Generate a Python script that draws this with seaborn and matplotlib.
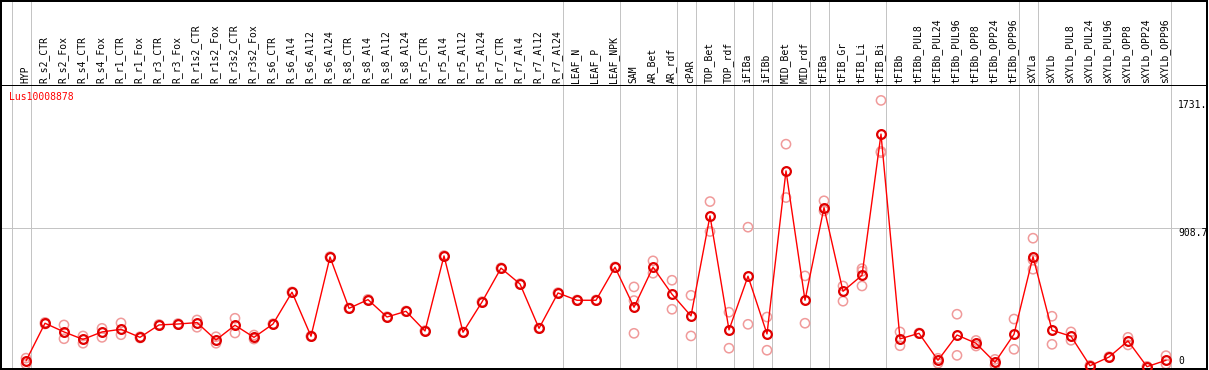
import pandas as pd
import seaborn as sns
import matplotlib.pyplot as plt

samples = [
    'HYP', 'R_s2_CTR', 'R_s2_Fox', 'R_s4_CTR', 'R_s4_Fox', 'R_r1_CTR', 'R_r1_Fox',
    'R_r3_CTR', 'R_r3_Fox', 'R_r1s2_CTR', 'R_r1s2_Fox', 'R_r3s2_CTR', 'R_r3s2_Fox',
    'R_s6_CTR', 'R_s6_Al4', 'R_s6_Al12', 'R_s6_Al24', 'R_s8_CTR', 'R_s8_Al4',
    'R_s8_Al12', 'R_s8_Al24', 'R_r5_CTR', 'R_r5_Al4', 'R_r5_Al12', 'R_r5_Al24',
    'R_r7_CTR', 'R_r7_Al4', 'R_r7_Al12', 'R_r7_Al24', 'LEAF_N', 'LEAF_P', 'LEAF_NPK',
    'SAM', 'AR_Bet', 'AR_rdf', 'cPAR', 'TOP_Bet', 'TOP_rdf', 'iFIBa', 'iFIBb',
    'MID_Bet', 'MID_rdf', 'tFIBa', 'tFIB_Gr', 'tFIB_Li', 'tFIB_Bi', 'tFIBb',
    'tFIBb_PUL8', 'tFIBb_PUL24', 'tFIBb_PUL96', 'tFIBb_OPP8', 'tFIBb_OPP24',
    'tFIBb_OPP96', 'sXYLa', 'sXYLb', 'sXYLb_PUL8', 'sXYLb_PUL24', 'sXYLb_PUL96',
    'sXYLb_OPP8', 'sXYLb_OPP24', 'sXYLb_OPP96',
]

means = [
    52, 295, 239, 191, 239, 256, 204, 284, 290, 299, 187, 282, 204,
    290, 495, 211, 722, 391, 447, 335, 372, 245, 729, 237, 432,
    650, 548, 262, 490, 443, 443, 656,
    398, 656, 482, 342, 987, 252, 598, 226,
    1277, 443, 1040, 501, 604, 1514,
    194, 230, 56, 219, 166, 43, 224,
    724, 250, 211, 21, 77, 181, 15, 56,
]

replicates = [
    [70, 32], [300, 290], [284, 195], [213, 166], [262, 204], [297, 221], [208, 200],
    [287, 281], [293, 287], [316, 269], [208, 166], [327, 232], [219, 193],
    [292, 288], [497, 493], [213, 209], [724, 720], [393, 389], [449, 445],
    [337, 333], [374, 370], [247, 243], [731, 727], [239, 235], [434, 430],
    [652, 648], [550, 546], [264, 260], [492, 488], [445, 441], [445, 441], [658, 654],
    [529, 441, 230], [697, 617], [572, 385], [475, 213], [1079, 886], [366, 134],
    [914, 288], [335, 121],
    [1449, 1105], [600, 295], [1084, 1019], [535, 437], [647, 630, 535],
    [1731, 1402, 1394],
    [239, 150], [232, 228], [69, 37], [353, 88], [184, 148], [62, 25], [322, 127],
    [843, 643, 703], [340, 159], [239, 185], [23, 19], [79, 75], [204, 155],
    [17, 13], [86, 32],
]

# number of samples in each tissue group (separated by grey lines)
group_sizes = [1, 28, 3, 3, 1, 2, 1, 1, 2, 1, 3, 7, 1, 7]

gene_id = 'Lus10008878'
scale_labels = ['1731.', '908.7', '0']
scale_values = [1731, 908.7, 0]

# ---- layout (pixels) ----
W, H = 1209, 370
dpi = 100
px = 1.0 / dpi
y_top_head, y_split, y_bottom = 0, 85, 369
x_left, x_right = 1, 1207
col_w = 19.0
x0 = 26.0  # pixel of first sample point

sns.set_theme(style='white')
plt.rcParams['font.family'] = ['DejaVu Sans Mono']

fig = plt.figure(figsize=(W * px, H * px), dpi=dpi)

ax = fig.add_axes([x_left / W, 1 - y_bottom / H,
                   (x_right - x_left) / W, (y_bottom - y_split) / H])
ax_head = fig.add_axes([x_left / W, 1 - y_split / H,
                        (x_right - x_left) / W, (y_split - y_top_head - 0.5) / H])

xlim = ((x_left - x0) / col_w, (x_right - x0) / col_w)
ymax = (y_bottom - y_split) * (908.7 / 141.0)

pos = list(range(len(samples)))
rep_df = pd.DataFrame({'pos': pos, 'value': replicates}).explode('value')
rep_df['value'] = rep_df['value'].astype(float)

grid_c = '#c4c4c4'
lw_px = 72.0 / dpi

# group separators
bounds = [-1]
for g in group_sizes:
    bounds.append(bounds[-1] + g)
for b in bounds:
    xb = b + 4.5 / col_w
    ax.axvline(xb, color=grid_c, lw=lw_px, zorder=0)
    ax_head.axvline(xb, color=grid_c, lw=lw_px, zorder=0)
ax.axhline(908.7, color=grid_c, lw=lw_px, zorder=0)

# replicate points
sns.scatterplot(data=rep_df, x='pos', y='value', ax=ax, s=44, color='#f0a0a0',
                linewidth=1.1, zorder=2, legend=False)
coll = ax.collections[-1]
coll.set_facecolor('none')
coll.set_edgecolor('#f09a9a')

# mean line
sns.lineplot(x=pos, y=means, ax=ax, color='#ff0000', lw=1.0, marker='o',
             ms=6.3, mfc='none', mec='#e00000', mew=1.6, zorder=3)

ax.set_xlim(*xlim)
ax.set_ylim(0, ymax)
ax.set_xticks([])
ax.set_yticks([])
ax.set_xlabel('')
ax.set_ylabel('')
for s in ax.spines.values():
    s.set_color('black')
    s.set_linewidth(2 * lw_px)

ax.text(0.0065, 0.975, gene_id, transform=ax.transAxes, color='#ff0000',
        fontsize=7, ha='left', va='top')

x_scale = (1178 - x0) / col_w
for lab, v in zip(scale_labels, scale_values):
    if v == 0:
        ax.text(x_scale, 3 * 6.445, lab, fontsize=7, ha='left', va='bottom', color='black')
    else:
        ax.text(x_scale, v, lab, fontsize=7, ha='left', va='top', color='black')

# header with rotated sample names
ax_head.set_xlim(*xlim)
ax_head.set_ylim(0, 1)
ax_head.set_xticks([])
ax_head.set_yticks([])
for s in ax_head.spines.values():
    s.set_color('black')
    s.set_linewidth(2 * lw_px)
ax_head.spines['bottom'].set_visible(False)
for p, name in zip(pos, samples):
    ax_head.text(p - 1.0 / col_w, 2.0 / 85, name, rotation=90, fontsize=7,
                 ha='center', va='bottom', color='black')

fig.savefig('out.png', dpi=dpi)
